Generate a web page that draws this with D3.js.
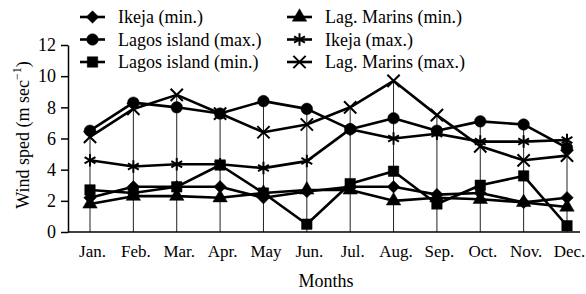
<!DOCTYPE html>
<html>
<head>
<meta charset="utf-8">
<script src="https://cdn.jsdelivr.net/npm/d3@7"></script>
<style>
  body { margin: 0; background: #fff; }
  svg text { font-family: "Liberation Serif", "Times New Roman", serif; fill: #000; }
</style>
</head>
<body>
<div id="chart"></div>
<script>
// valeurs (m/s)
const months = ["Jan.", "Feb.", "Mar.", "Apr.", "May", "Jun.", "Jul.", "Aug.", "Sep.", "Oct.", "Nov.", "Dec."];
const ikejaMin       = [2.2, 2.9, 2.9, 2.9, 2.2, 2.6, 2.9, 2.9, 2.4, 2.5, 1.9, 2.2];
const lagosIslandMax = [6.5, 8.3, 8.0, 7.6, 8.4, 7.9, 6.6, 7.3, 6.5, 7.1, 6.9, 5.4];
const lagosIslandMin = [2.7, 2.5, 2.9, 4.3, 2.5, 0.5, 3.1, 3.9, 1.8, 3.0, 3.6, 0.4];
const lagMarinsMin   = [1.8, 2.3, 2.3, 2.2, 2.5, 2.7, 2.7, 2.0, 2.2, 2.1, 1.9, 1.6];
const ikejaMax       = [4.6, 4.2, 4.35, 4.35, 4.1, 4.55, 6.6, 6.0, 6.3, 5.8, 5.8, 5.9];
const lagMarinsMax   = [6.1, 7.9, 8.8, 7.6, 6.4, 6.9, 8.0, 9.7, 7.5, 5.5, 4.6, 4.9];
const yTicks = [0, 2, 4, 6, 8, 10, 12];

const series = [
  {name: "Ikeja (min.)", values: ikejaMin, symbol: d3.symbolDiamond2, size: 100, fill: true},
  {name: "Lagos island (max.)", values: lagosIslandMax, symbol: d3.symbolCircle, size: 105, fill: true},
  {name: "Lagos island (min.)", values: lagosIslandMin, symbol: d3.symbolSquare, size: 110, fill: true},
  {name: "Lag. Marins (min.)", values: lagMarinsMin, symbol: d3.symbolTriangle, size: 90, fill: true},
  {name: "Ikeja (max.)", values: ikejaMax, symbol: d3.symbolAsterisk, size: 110, fill: false},
  {name: "Lag. Marins (max.)", values: lagMarinsMax, symbol: d3.symbolTimes, size: 100, fill: false}
];

const width = 586, height = 294;
const plot = {left: 68, right: 580, top: 45, bottom: 232};

const svg = d3.select("#chart").append("svg")
  .attr("width", width)
  .attr("height", height);

const x = d3.scalePoint().domain(months).range([90, 567]);
const y = d3.scaleLinear().domain([0, 12]).range([plot.bottom, plot.top]);

// drop lines (axe -> valeur max du mois)
const maxByMonth = months.map((m, i) => d3.max(series, s => s.values[i]));
svg.append("g").selectAll("line")
  .data(months)
  .join("line")
  .attr("x1", d => x(d)).attr("x2", d => x(d))
  .attr("y1", y(0))
  .attr("y2", (d, i) => y(maxByMonth[i]))
  .attr("stroke", "#222")
  .attr("stroke-width", 1);

// axe y
const yAxis = svg.append("g")
  .attr("transform", "translate(" + plot.left + ",0)")
  .call(d3.axisLeft(y).tickValues(yTicks).tickSize(7).tickSizeOuter(0).tickPadding(5));
yAxis.select(".domain").attr("stroke", "#000").attr("stroke-width", 1.5);
yAxis.selectAll(".tick line").attr("stroke", "#000").attr("stroke-width", 1.5);
yAxis.selectAll("text").style("font-size", "18px").style("font-family", "Liberation Serif, serif");

// axe x
svg.append("line")
  .attr("x1", plot.left).attr("x2", plot.right)
  .attr("y1", y(0)).attr("y2", y(0))
  .attr("stroke", "#000").attr("stroke-width", 1.5);
const xAxis = svg.append("g")
  .attr("transform", "translate(2," + plot.bottom + ")")
  .call(d3.axisBottom(x).tickSize(0).tickPadding(13));
xAxis.select(".domain").remove();
xAxis.selectAll("text").style("font-size", "17px").style("font-family", "Liberation Serif, serif");

// courbes
const line = d3.line().x((d, i) => x(months[i])).y(d => y(d));
series.forEach(s => {
  svg.append("path")
    .datum(s.values)
    .attr("d", line)
    .attr("fill", "none")
    .attr("stroke", "#000")
    .attr("stroke-width", 2.6)
    .attr("stroke-linejoin", "round");
});
series.forEach(s => {
  svg.append("g").selectAll("path")
    .data(s.values)
    .join("path")
    .attr("transform", (d, i) => "translate(" + x(months[i]) + "," + y(d) + ")")
    .attr("d", d3.symbol().type(s.symbol).size(s.size))
    .attr("fill", s.fill ? "#000" : "none")
    .attr("stroke", "#000")
    .attr("stroke-width", s.fill ? 0.5 : 2);
});

// legende
const legend = svg.append("g");
series.forEach((s, i) => {
  const col = Math.floor(i / 3), row = i % 3;
  const g = legend.append("g")
    .attr("transform", "translate(" + (col === 0 ? 80 : 287) + "," + (17 + row * 22.5) + ")");
  g.append("line").attr("x1", 0).attr("x2", 25)
    .attr("stroke", "#000").attr("stroke-width", 2.6);
  g.append("path")
    .attr("transform", "translate(12.5,0)")
    .attr("d", d3.symbol().type(s.symbol).size(s.size))
    .attr("fill", s.fill ? "#000" : "none")
    .attr("stroke", "#000")
    .attr("stroke-width", s.fill ? 0.5 : 2);
  g.append("text")
    .attr("x", 38).attr("y", 6)
    .style("font-size", "18px")
    .text(s.name);
});

// titres des axes
svg.append("text")
  .attr("x", 326).attr("y", 287)
  .attr("text-anchor", "middle")
  .style("font-size", "18px")
  .text("Months");

const yTitle = svg.append("text")
  .attr("transform", "translate(29,135) rotate(-90)")
  .attr("text-anchor", "middle")
  .style("font-size", "18px");
yTitle.append("tspan").text("Wind sped (m sec");
yTitle.append("tspan").attr("dy", -8).style("font-size", "12px").text("\u22121");
yTitle.append("tspan").attr("dy", 8).text(")");
</script>
</body>
</html>
